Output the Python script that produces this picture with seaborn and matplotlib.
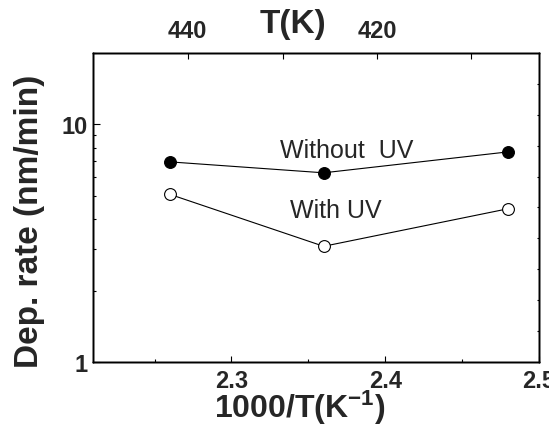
import matplotlib
matplotlib.use("Agg")
import matplotlib.pyplot as plt
import seaborn as sns
import numpy as np
import pandas as pd
from matplotlib.ticker import FixedLocator, NullFormatter, LogLocator

# ---- data ----
inv_T = [2.26, 2.36, 2.48]
rate_without_uv = [6.96, 6.26, 7.67]
rate_with_uv = [5.08, 3.07, 4.42]

x_ticks = [2.3, 2.4, 2.5]
x_tick_labels = ["2.3", "2.4", "2.5"]
x_minor = [2.25, 2.35, 2.45]
top_tick_pos = [2.2716, 2.3333, 2.3946, 2.456]
top_tick_labels = ["440", "", "420", ""]

sns.set_theme(style="white")
plt.rcParams['font.family'] = ['Liberation Sans', 'DejaVu Sans']
plt.rcParams['mathtext.fontset'] = 'custom'
plt.rcParams['mathtext.rm'] = 'Liberation Sans'
plt.rcParams['mathtext.bf'] = 'Liberation Sans:bold'
plt.rcParams['mathtext.it'] = 'Liberation Sans:italic'

W, H = 549, 427
fig = plt.figure(figsize=(W / 100, H / 100), dpi=100)
L, R, T, B = 93, 539, 54, 363
ax = fig.add_axes([L / W, 1 - B / H, (R - L) / W, (B - T) / H])

df1 = pd.DataFrame({"x": inv_T, "y": rate_without_uv})
df2 = pd.DataFrame({"x": inv_T, "y": rate_with_uv})
sns.lineplot(data=df1, x="x", y="y", ax=ax, color="black", lw=0.8,
             marker="o", markersize=8.5, markerfacecolor="black",
             markeredgecolor="black", markeredgewidth=0.8, zorder=5)
sns.lineplot(data=df2, x="x", y="y", ax=ax, color="black", lw=0.8,
             marker="o", markersize=8.5, markerfacecolor="white",
             markeredgecolor="black", markeredgewidth=0.8, zorder=5)

ax.set_yscale("log")
ax.set_xlim(2.21, 2.5)
ax.set_ylim(1, 20)
ax.set_xticks(x_ticks)
ax.set_xticklabels(x_tick_labels)
ax.xaxis.set_minor_locator(FixedLocator(x_minor))
ax.yaxis.set_major_locator(FixedLocator([1, 10]))
ax.set_yticklabels(["1", "10"])
ax.yaxis.set_minor_locator(LogLocator(base=10, subs=np.arange(2, 10)))
ax.yaxis.set_minor_formatter(NullFormatter())

for lab in ax.get_xticklabels() + ax.get_yticklabels():
    lab.set_fontweight("bold")
    lab.set_fontsize(17)

ax.tick_params(axis="x", which="major", direction="in", length=4.3, width=0.8,
               pad=5, bottom=True, top=False, color="black")
ax.tick_params(axis="x", which="minor", direction="in", length=2, width=0.8,
               bottom=True, top=False, color="black")
ax.tick_params(axis="y", which="major", direction="in", length=5, width=0.8,
               pad=4, left=True, right=False, color="black")
ax.tick_params(axis="y", which="minor", direction="in", length=2.4, width=0.8,
               left=True, right=False, color="black")

ax.set_xlabel("1000/T(K$^{\\mathbf{-1}}$)", fontsize=23, fontweight="bold")
ax.xaxis.label.set_va("baseline")
ax.xaxis.set_label_coords((300 - L) / (R - L), -(418 - B) / (B - T))
ax.set_ylabel("Dep. rate (nm/min)", fontsize=24, fontweight="bold")
ax.yaxis.label.set_va("center")
ax.yaxis.set_label_coords(-(L - 29.5) / (R - L), (B - 221) / (B - T))

for s in ax.spines.values():
    s.set_color("black")
    s.set_linewidth(1.0)

# top axis (temperature)
ax_top = ax.twiny()
ax_top.set_xlim(ax.get_xlim())
ax_top.set_xticks(top_tick_pos)
ax_top.set_xticklabels(top_tick_labels, fontsize=17, fontweight="bold")
ax_top.tick_params(axis="x", direction="in", length=4.3, width=0.8, pad=8,
                   color="black")
ax_top.set_xlabel("T(K)", fontsize=24, fontweight="bold")
ax_top.xaxis.label.set_va("baseline")
ax_top.xaxis.set_label_coords((292.5 - L) / (R - L), (B - 33) / (B - T))

# right axis (plain ticks)
ax_r = ax.twinx()
ax_r.set_ylim(0, 10)
ax_r.set_yticks(np.arange(1, 10))
ax_r.yaxis.set_major_formatter(NullFormatter())
ax_r.tick_params(axis="y", direction="in", length=1.8, width=0.8, color="black")
for a in (ax, ax_top, ax_r):
    a.grid(False)
for a in (ax_top, ax_r):
    for s in a.spines.values():
        s.set_color("black")
        s.set_linewidth(1.0)

ax.text(2.375, 7.33, "Without  UV", fontsize=18, ha="center", va="baseline")
ax.text(2.368, 4.08, "With UV", fontsize=18, ha="center", va="baseline")

fig.savefig("out.png", dpi=100)
